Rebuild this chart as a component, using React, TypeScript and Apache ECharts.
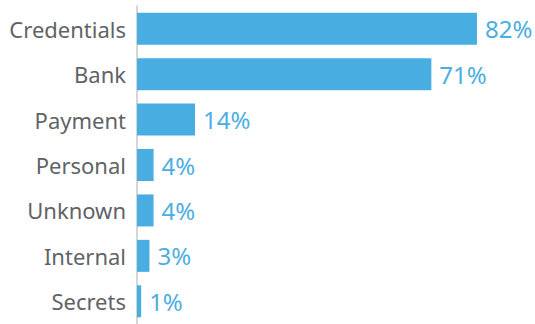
import React, { useEffect, useRef } from "react";
import * as echarts from "echarts";

const categories = ["Credentials", "Bank", "Payment", "Personal", "Unknown", "Internal", "Secrets"];
const values = [82, 71, 14, 4, 4, 3, 1];

export default function App() {
  const ref = useRef<HTMLDivElement>(null);
  useEffect(() => {
    const chart = echarts.init(ref.current!, null, { renderer: "svg" });
    chart.setOption({
      animation: false,
      grid: { left: 137, top: 6, right: 0, height: 322, containLabel: false },
      xAxis: {
        type: "value",
        min: 0,
        max: 96,
        show: false,
      },
      yAxis: {
        type: "category",
        data: categories,
        inverse: true,
        axisLine: { show: true, lineStyle: { color: "#c8c8c8", width: 1.5 } },
        axisTick: { show: false },
        axisLabel: {
          color: "#5f6365",
          fontSize: 22,
          fontFamily: "Noto Sans",
          margin: 11,
        },
      },
      series: [
        {
          type: "bar",
          data: values,
          barWidth: 32,
          itemStyle: { color: "#48aee2" },
          label: {
            show: true,
            position: "right",
            distance: 8,
            formatter: "{c}%",
            color: "#4aaee2",
            fontSize: 24,
            fontFamily: "Noto Sans",
          },
        },
      ],
    });
    return () => chart.dispose();
  }, []);
  return <div ref={ref} style={{ width: 535, height: 324, position: "absolute", left: 0, top: 0 }} />;
}
